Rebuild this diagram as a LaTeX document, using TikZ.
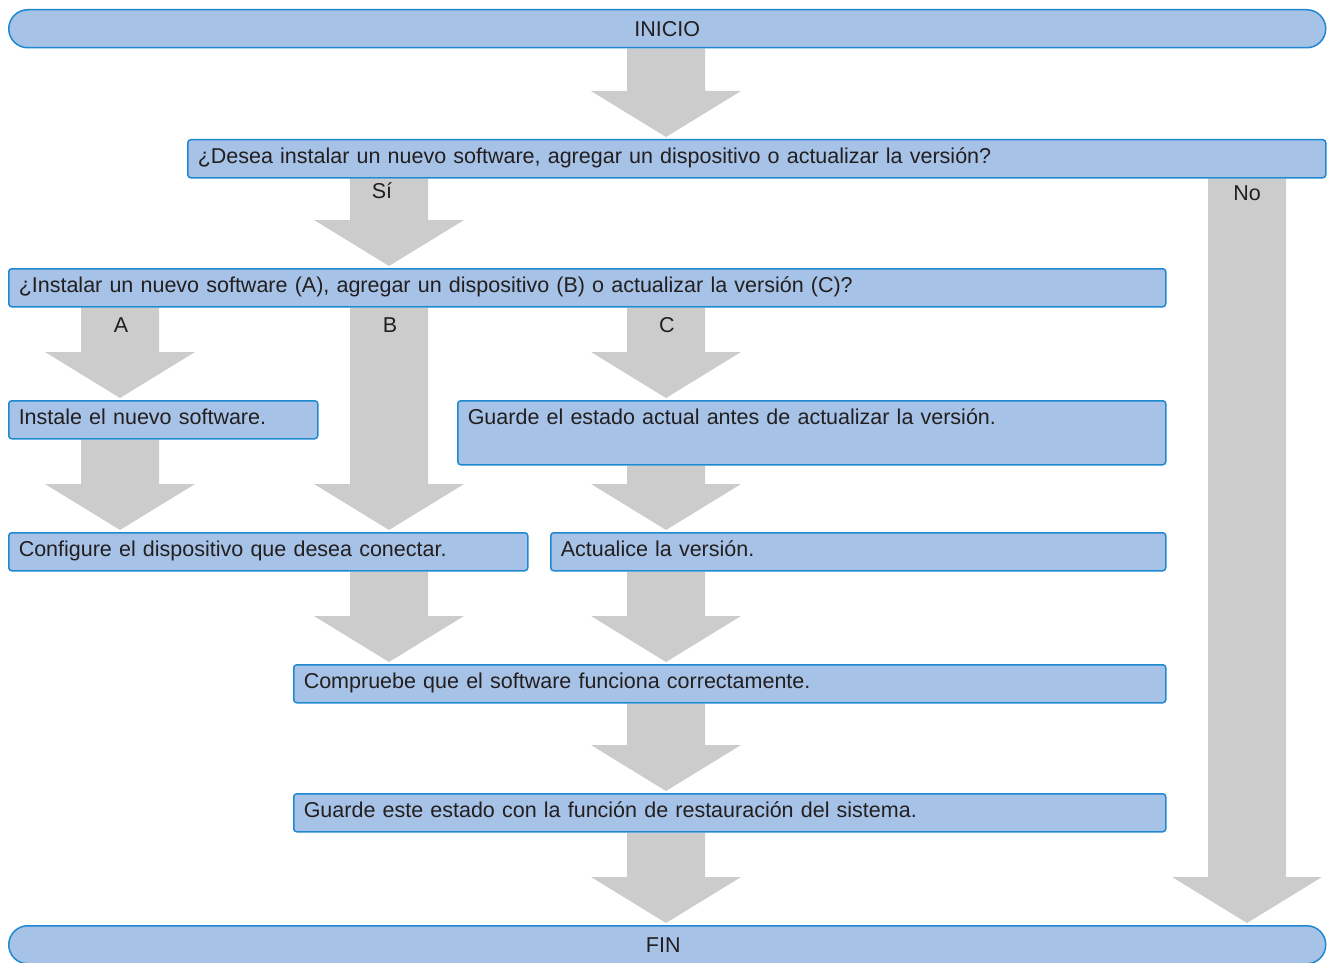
\documentclass[tikz,border=0pt]{standalone}
\usepackage{fontspec}
\setmainfont{Liberation Sans}
\usetikzlibrary{calc,backgrounds}
\definecolor{boxfill}{RGB}{166,194,230}
\definecolor{boxline}{RGB}{30,136,208}
\definecolor{arrowgray}{RGB}{204,204,204}
\definecolor{txt}{RGB}{35,31,32}

\tikzset{
  stepbox/.style={draw=boxline,fill=boxfill,line width=1.5pt,rounded corners=3pt,
    anchor=north west,align=left,inner xsep=10pt,inner ysep=9pt,
    text height=15pt,text depth=5pt,font=\fontsize{21.5pt}{25pt}\selectfont,text=txt},
  endbox/.style={draw=boxline,fill=boxfill,line width=1.5pt,rounded corners=19pt,
    anchor=north west,minimum height=38pt,minimum width=1317pt,inner sep=0pt,
    font=\fontsize{21.5pt}{25pt}\selectfont,text=txt},
  lbl/.style={font=\fontsize{21.5pt}{25pt}\selectfont,text=txt}
}
% big gray arrow at x=#1, from node #2 down to its tip on node #3
\newcommand{\bigarrow}[3]{%
  \fill[arrowgray] let \p1=(#2.south), \p2=(#3.north), \n1={#1pt} in
    (\n1-39pt,\y1) -- (\n1+39pt,\y1) -- (\n1+39pt,\y2+48pt) -- (\n1+75pt,\y2+48pt)
    -- (\n1,\y2+2pt) -- (\n1-75pt,\y2+48pt) -- (\n1-39pt,\y2+48pt) -- cycle;}

\begin{document}
\begin{tikzpicture}[x=1pt,y=-1pt]
  \useasboundingbox (0,0) rectangle (1333,963);
  \node[endbox] (ini) at (8,9) {INICIO};
  \node[stepbox,text width=1118pt] (q1) at (187,139)
    {¿Desea instalar un nuevo software, agregar un dispositivo o actualizar la versión?};
  \node[stepbox,text width=1137pt] (q2) at (8,268)
    {¿Instalar un nuevo software (A), agregar un dispositivo (B) o actualizar la versión (C)?};
  \node[stepbox,text width=289pt] (inst) at (8,400) {Instale el nuevo software.};
  \node[stepbox,text width=688pt,text depth=31pt] (save) at (457,400)
    {Guarde el estado actual antes de actualizar la versión.};
  \node[stepbox,text width=499pt] (conf) at (8,532) {Configure el dispositivo que desea conectar.};
  \node[stepbox,text width=595pt] (upd) at (550,532) {Actualice la versión.};
  \node[stepbox,text width=852pt] (check) at (293,664)
    {Compruebe que el software funciona correctamente.};
  \node[stepbox,text width=852pt] (rest) at (293,793)
    {Guarde este estado con la función de restauración del sistema.};
  \node[endbox] (fin) at (8,925) {\hspace*{-8pt}FIN};

  \begin{scope}[on background layer]
    \foreach \ax/\a/\b in {666/ini/q1, 389/q1/q2, 1247/q1/fin, 120/q2/inst, 389/q2/conf,
      666/q2/save, 120/inst/conf, 666/save/upd, 389/conf/check, 666/upd/check,
      666/check/rest, 666/rest/fin}
      \bigarrow{\ax}{\a}{\b};
  \end{scope}

  \node[lbl] (si) at (382,191) {Sí};
  \node[lbl] (no) at (1247,193) {No};
  \node[lbl] (la) at (121,325) {A};
  \node[lbl] (lb) at (390,325) {B};
  \node[lbl] (lc) at (667,325) {C};
\end{tikzpicture}
\end{document}
